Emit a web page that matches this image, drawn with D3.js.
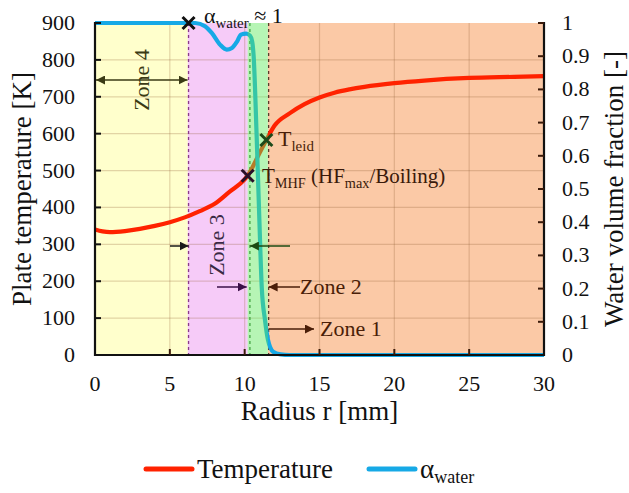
<!DOCTYPE html>
<html>
<head>
<meta charset="utf-8">
<script src="https://cdn.jsdelivr.net/npm/d3@7"></script>
</head>
<body style="margin:0;background:#fff">
<svg id="chart" width="629" height="493" style="display:block"></svg>
<script>
// Plate temperature along the radius [mm -> K]
const tempRadius = [0, 0.5, 1, 2, 3, 4, 5, 6, 7, 8, 9, 10, 10.2, 10.6, 11, 11.45, 12, 13, 14, 15, 16, 17, 18, 20, 22, 25, 28, 30];
const tempValues = [340, 335, 333, 336, 342, 350, 360, 373, 390, 410, 443, 476, 486, 515, 548, 583, 622, 655, 680, 698, 711, 720, 727, 737, 744, 751, 754, 756];

// Water volume fraction along the radius [mm -> -]
const alphaRadius = [0, 6.2, 6.7, 7.35, 7.8, 8.35, 8.8, 9.15, 9.5, 9.75, 10.1, 10.36, 10.5, 10.6, 10.8, 10.98, 11.14, 11.36, 11.56, 11.9, 12.4, 13, 20, 30];
const alphaValues = [1, 1, 1, 0.99, 0.97, 0.935, 0.92, 0.925, 0.945, 0.965, 0.968, 0.962, 0.945, 0.9, 0.66, 0.41, 0.205, 0.105, 0.045, 0.01, 0.002, 0, 0, 0];

// Boiling zones (radius bounds)
const zoneNames = ["Zone 4", "Zone 3", "Zone 2", "Zone 1"];
const zoneStart = [0, 6.2, 10.2, 11.55];
const zoneEnd = [6.2, 10.2, 11.55, 30];
const zoneFill = ["#ffffcc", "#f6cbf8", "#b2f5ae", "#fbc9a6"];
const boundaryR = [6.25, 10.35, 11.6];
const boundaryColor = ["#8a3a8a", "#2f6a2f", "#5a3a2a"];

// Marked points: wet limit, T_MHF and Leidenfrost
const markerR = [6.25, 10.2, 11.45];
const markerT = [900, 486, 583];
const markerColor = ["#111", "#2a0f2a", "#1d4a1a"];

// Axis ticks
const xTicks = [0, 5, 10, 15, 20, 25, 30];
const tTicks = [0, 100, 200, 300, 400, 500, 600, 700, 800, 900];
const aTicks = [0, 0.1, 0.2, 0.3, 0.4, 0.5, 0.6, 0.7, 0.8, 0.9, 1];

const FONT = '"Liberation Serif"';
const svg = d3.select("#chart");
const L = 95, R = 544, T = 23, B = 355;

const x = d3.scaleLinear().domain([0, 30]).range([L, R]);
const yT = d3.scaleLinear().domain([0, 900]).range([B, T]);
const yA = d3.scaleLinear().domain([0, 1]).range([B, T]);

const defs = svg.append("defs");
function arrowHead(id, color) {
  defs.append("marker")
    .attr("id", id).attr("viewBox", "0 0 10 10")
    .attr("refX", 10).attr("refY", 5)
    .attr("markerWidth", 9).attr("markerHeight", 9)
    .attr("markerUnits", "userSpaceOnUse")
    .attr("orient", "auto-start-reverse")
    .append("path").attr("d", "M0,0 L10,5 L0,10 Z").attr("fill", color);
}
arrowHead("ahOlive", "#3a3a14");
arrowHead("ahBlack", "#1a1a1a");
arrowHead("ahGreen", "#1d4a12");
arrowHead("ahPurple", "#3a1048");
arrowHead("ahBrown", "#4a1e08");

// Zone backgrounds (the narrow zone 2 band is drawn later as a translucent overlay)
svg.append("g").selectAll("rect")
  .data(zoneNames.map((n, i) => ({ n, s: zoneStart[i], e: zoneEnd[i], c: zoneFill[i] })).filter(d => d.n !== "Zone 2"))
  .join("rect")
  .attr("x", d => x(d.s)).attr("y", T)
  .attr("width", d => x(d.e) - x(d.s)).attr("height", B - T)
  .attr("fill", d => d.c);

// Grid
const grid = svg.append("g").attr("stroke", "rgba(150,100,60,0.28)").attr("stroke-width", 1.2);
grid.selectAll("line.h").data(tTicks.slice(1, -1)).join("line")
  .attr("x1", L).attr("x2", R).attr("y1", d => yT(d)).attr("y2", d => yT(d));
grid.selectAll("line.v").data(xTicks.slice(1, -1)).join("line")
  .attr("y1", T).attr("y2", B).attr("x1", d => x(d)).attr("x2", d => x(d));

// Zone boundaries
svg.append("g").selectAll("line").data(boundaryR).join("line")
  .attr("x1", d => x(d)).attr("x2", d => x(d)).attr("y1", T).attr("y2", B)
  .attr("stroke", (d, i) => boundaryColor[i]).attr("stroke-width", 1.3)
  .attr("stroke-dasharray", "3,3");

// Curves
const tLine = d3.line().x((d, i) => x(tempRadius[i])).y(d => yT(d)).curve(d3.curveMonotoneX);
const aLine = d3.line().x((d, i) => x(alphaRadius[i])).y(d => yA(d)).curve(d3.curveMonotoneX);

svg.append("path").datum(tempValues).attr("d", tLine)
  .attr("fill", "none").attr("stroke", "#ff2200").attr("stroke-width", 4.2);
svg.append("path").datum(alphaValues).attr("d", aLine)
  .attr("fill", "none").attr("stroke", "#16a9e6").attr("stroke-width", 4.2)
  .attr("stroke-linejoin", "round");

// Zone 2 overlay
svg.append("rect")
  .attr("x", x(zoneStart[2])).attr("y", T)
  .attr("width", x(zoneEnd[2]) - x(zoneStart[2])).attr("height", B - T)
  .attr("fill", "#5ee85a").attr("fill-opacity", 0.45);

// Markers
svg.append("g").selectAll("path").data(markerR).join("path")
  .attr("transform", (d, i) => `translate(${x(d)},${yT(markerT[i])})`)
  .attr("d", "M-6,-6L6,6M-6,6L6,-6")
  .attr("stroke", (d, i) => markerColor[i]).attr("stroke-width", 3);

// Axes
const axes = svg.append("g").attr("stroke", "#111");
axes.append("line").attr("x1", L).attr("x2", L).attr("y1", T - 1).attr("y2", B + 1).attr("stroke-width", 2.2);
axes.append("line").attr("x1", R).attr("x2", R).attr("y1", T - 1).attr("y2", B + 1).attr("stroke-width", 2.2);
axes.append("line").attr("x1", L - 1).attr("x2", R + 1).attr("y1", B).attr("y2", B).attr("stroke-width", 2.2);

// Tick marks (inward)
axes.selectAll("line.lt").data(tTicks.slice(1)).join("line")
  .attr("x1", L).attr("x2", L + 6).attr("y1", d => yT(d)).attr("y2", d => yT(d)).attr("stroke-width", 2);
axes.selectAll("line.rt").data(aTicks.slice(1)).join("line")
  .attr("x1", R - 6).attr("x2", R).attr("y1", d => yA(d)).attr("y2", d => yA(d)).attr("stroke-width", 2)
  .attr("stroke", "#3a1a0a");
axes.selectAll("line.bt").data(xTicks.slice(1, -1)).join("line")
  .attr("x1", d => x(d)).attr("x2", d => x(d)).attr("y1", B - 6).attr("y2", B).attr("stroke-width", 2)
  .attr("stroke", "#3a1a0a");

function txt(sel) { return sel.style("font-family", FONT); }

// Tick labels
const tickFont = 22;
txt(svg.append("g").selectAll("text").data(tTicks).join("text"))
  .attr("x", 75).attr("y", d => yT(d) + 7).attr("text-anchor", "end")
  .attr("font-size", tickFont).attr("fill", "#111").text(d => d);
txt(svg.append("g").selectAll("text").data(aTicks).join("text"))
  .attr("x", 562).attr("y", d => yA(d) + 7).attr("text-anchor", "start")
  .attr("font-size", tickFont).attr("fill", "#111").text(d => d);
txt(svg.append("g").selectAll("text").data(xTicks).join("text"))
  .attr("x", d => x(d)).attr("y", 391).attr("text-anchor", "middle")
  .attr("font-size", tickFont).attr("fill", "#111").text(d => d);

// Axis titles
const titleFont = 27;
txt(svg.append("text")).attr("transform", `translate(31,${(T + B) / 2}) rotate(-90)`)
  .attr("text-anchor", "middle").attr("font-size", titleFont).attr("fill", "#111")
  .text("Plate temperature [K]");
txt(svg.append("text")).attr("transform", `translate(623,${(T + B) / 2}) rotate(-90)`)
  .attr("text-anchor", "middle").attr("font-size", titleFont).attr("fill", "#111")
  .text("Water volume fraction [-]");
txt(svg.append("text")).attr("x", (L + R) / 2).attr("y", 420)
  .attr("text-anchor", "middle").attr("font-size", titleFont).attr("fill", "#111")
  .text("Radius r [mm]");

// Annotations
function subLabel(px, py, main, sub, rest, color, size) {
  const t = txt(svg.append("text")).attr("x", px).attr("y", py).attr("font-size", size).attr("fill", color);
  t.append("tspan").text(main);
  t.append("tspan").attr("font-size", size * 0.68).attr("dy", 5).text(sub);
  if (rest) rest.forEach(r => {
    t.append("tspan").attr("font-size", r.sub ? size * 0.68 : size).attr("dy", r.dy).text(r.t);
  });
  return t;
}
subLabel(204, 23, "α", "water", [{ t: " ≈ 1", dy: -5 }], "#111", 22);
subLabel(278, 146, "T", "leid", null, "#4a1e08", 22);
subLabel(262, 183, "T", "MHF", [{ t: " (HF", dy: -5 }, { t: "max", dy: 5, sub: true }, { t: "/Boiling)", dy: -5 }], "#3a1a0a", 21);

// Zone labels and arrows
const zoneFont = 22;
txt(svg.append("text")).attr("transform", `translate(149,80) rotate(-90)`)
  .attr("text-anchor", "middle").attr("font-size", zoneFont).attr("fill", "#3a3a14").text(zoneNames[0]);
svg.append("line").attr("x1", x(0) + 1).attr("x2", x(boundaryR[0]) - 1).attr("y1", 80).attr("y2", 80)
  .attr("stroke", "#3a3a14").attr("stroke-width", 1.5)
  .attr("marker-start", "url(#ahOlive)").attr("marker-end", "url(#ahOlive)");

txt(svg.append("text")).attr("transform", `translate(224,245) rotate(-90)`)
  .attr("text-anchor", "middle").attr("font-size", zoneFont).attr("fill", "#3a2a45").text(zoneNames[1]);
svg.append("line").attr("x1", 170).attr("x2", x(boundaryR[0])).attr("y1", 246).attr("y2", 246)
  .attr("stroke", "#1a1a1a").attr("stroke-width", 1.5).attr("marker-end", "url(#ahBlack)");
svg.append("line").attr("x1", 290).attr("x2", x(boundaryR[1])).attr("y1", 246).attr("y2", 246)
  .attr("stroke", "#1d4a12").attr("stroke-width", 1.5).attr("marker-end", "url(#ahGreen)");

svg.append("line").attr("x1", 217).attr("x2", x(zoneStart[2]) - 1).attr("y1", 287).attr("y2", 287)
  .attr("stroke", "#3a1048").attr("stroke-width", 1.5).attr("marker-end", "url(#ahPurple)");
svg.append("line").attr("x1", 300).attr("x2", x(boundaryR[2])).attr("y1", 287).attr("y2", 287)
  .attr("stroke", "#4a1e08").attr("stroke-width", 1.5).attr("marker-end", "url(#ahBrown)");
txt(svg.append("text")).attr("x", 300).attr("y", 294).attr("font-size", zoneFont).attr("fill", "#4a1e08").text(zoneNames[2]);

svg.append("line").attr("x1", x(boundaryR[2])).attr("x2", 314).attr("y1", 329).attr("y2", 329)
  .attr("stroke", "#4a1e08").attr("stroke-width", 1.5).attr("marker-end", "url(#ahBrown)");
txt(svg.append("text")).attr("x", 320).attr("y", 336).attr("font-size", zoneFont).attr("fill", "#4a1e08").text(zoneNames[3]);

// Legend
const legend = svg.append("g");
legend.append("line").attr("x1", 146).attr("x2", 192).attr("y1", 469).attr("y2", 469)
  .attr("stroke", "#ff2200").attr("stroke-width", 5).attr("stroke-linecap", "round");
txt(legend.append("text")).attr("x", 197).attr("y", 478).attr("font-size", 27).attr("fill", "#111").text("Temperature");
legend.append("line").attr("x1", 369).attr("x2", 415).attr("y1", 469).attr("y2", 469)
  .attr("stroke", "#16a9e6").attr("stroke-width", 5).attr("stroke-linecap", "round");
const la = txt(legend.append("text")).attr("x", 420).attr("y", 478).attr("font-size", 27).attr("fill", "#111");
la.append("tspan").text("α");
la.append("tspan").attr("font-size", 18).attr("dy", 5).text("water");
</script>
</body>
</html>
